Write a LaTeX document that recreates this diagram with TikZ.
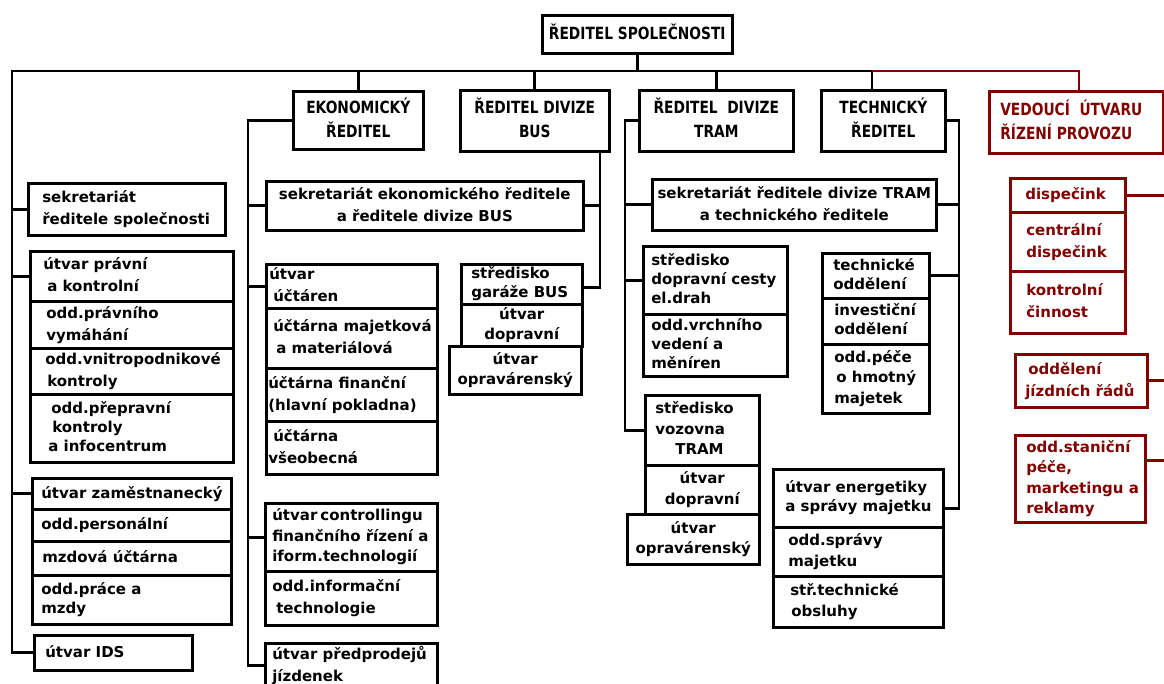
\documentclass[tikz,border=0pt]{standalone}
\usepackage{fontspec}
\setmainfont{DejaVu Sans}
\newfontfamily\headfam{DejaVu Sans}[FakeStretch=0.82]
\definecolor{darkrd}{RGB}{130,0,0}
\newcommand\bodyfont{\fontsize{15}{22}\selectfont\bfseries}
\tikzset{
  cellbox/.style={draw, line width=2.6pt, inner sep=0pt, fill=white, font=\bodyfont},
  hdr/.style={font=\headfam\fontsize{16.8}{24}\selectfont\bfseries},
  tight/.style={font=\fontsize{15}{19}\selectfont\bfseries},
  tight2/.style={font=\fontsize{15}{20.5}\selectfont\bfseries},
  redbox/.style={draw=darkrd, text=darkrd},
  conn/.style={line width=2.7pt},
  redconn/.style={line width=2.7pt, draw=darkrd},
}
% left-aligned cell: [opts]{name}{x1}{y1}{x2}{y2}{indent}{lines}
\newcommand\cell[8][]{%
  \pgfmathsetmacro\cw{#5-#3}\pgfmathsetmacro\ch{#6-#4}%
  \node[cellbox, minimum height=\ch pt, anchor=north west, #1] (#2) at (#3,#4)
    {\makebox[\cw pt][l]{\hspace*{#7pt}\begin{tabular}{@{}l@{}}#8\end{tabular}}};}
% centred cell: [opts]{name}{x1}{y1}{x2}{y2}{lines}
\newcommand\ccell[7][]{%
  \pgfmathsetmacro\cw{#5-#3}\pgfmathsetmacro\ch{#6-#4}%
  \node[cellbox, minimum height=\ch pt, anchor=north west, #1] (#2) at (#3,#4)
    {\makebox[\cw pt][c]{\begin{tabular}{@{}c@{}}#7\end{tabular}}};}
\begin{document}
\begin{tikzpicture}[x=1pt, y=-1pt]
\fill[white] (0,0) rectangle (1164,684);
\useasboundingbox (0,0) rectangle (1164,684);

% management level
\ccell[hdr]{top}{541}{14}{731}{52}{ŘEDITEL SPOLEČNOSTI}
\ccell[hdr]{eko}{292}{90}{422}{148}{EKONOMICKÝ\\ŘEDITEL}
\ccell[hdr]{bus}{459}{89}{608}{150}{ŘEDITEL DIVIZE\\BUS}
\ccell[hdr]{tram}{638}{89}{792}{150}{ŘEDITEL\ \ DIVIZE\\TRAM}
\ccell[hdr]{tech}{820}{89}{944}{150}{TECHNICKÝ\\ŘEDITEL}
\cell[hdr,redbox]{ved}{988}{90}{1162}{152}{11}{VEDOUCÍ\ \ ÚTVARU\\ŘÍZENÍ PROVOZU}

% units under the company director
\cell{sekr}{27}{182}{224}{234}{14}{sekretariát\\ředitele společnosti}
\cell{prav1}{29}{250}{232}{300}{13}{útvar právní\\\hspace{4pt}a kontrolní}
\cell{prav2}{29}{300}{232}{347}{16}{odd.právního\\vymáhání}
\cell{prav3}{29}{347}{232}{393}{15}{odd.vnitropodnikové\\\hspace{2pt}kontroly}
\cell[tight]{prav4}{29}{393}{232}{461}{18}{\hspace{3pt}odd.přepravní\\\hspace{4pt}kontroly\\a infocentrum}
\cell{zam1}{31}{477}{230}{508}{9}{útvar zaměstnanecký}
\cell{zam2}{31}{508}{230}{540}{9}{odd.personální}
\cell{zam3}{31}{540}{230}{574}{10}{mzdová účtárna}
\cell[tight]{zam4}{31}{574}{230}{623}{9}{odd.práce a\\mzdy}
\cell{ids}{33}{634}{191}{669}{11}{útvar IDS}

% economic director and BUS division
\ccell{seke}{265}{180}{582}{229}{sekretariát ekonomického ředitele\\a ředitele divize BUS}
\cell{uct1}{265}{263}{436}{307}{3}{útvar\\\hspace{4pt}účtáren}
\cell{uct2}{265}{307}{436}{367}{7}{účtárna majetková\\\hspace{3pt}a materiálová}
\cell{uct3}{265}{367}{436}{420}{2}{účtárna finanční\\(hlavní pokladna)}
\cell{uct4}{265}{420}{436}{473}{7}{účtárna\\\hspace{-5pt}všeobecná}
\cell[tight]{gar1}{460}{263}{581}{303}{10}{středisko\\garáže BUS}
\ccell[tight2]{gar2}{460}{303}{581}{345}{útvar\\dopravní}
\ccell[tight2]{gar3}{448}{345}{580}{393}{útvar\\opravárenský}
\cell[tight2]{ctrl1}{264}{502}{436}{570}{7}{útvar\hspace{3pt}controllingu\\finančního řízení a\\iform.technologií}
\cell{ctrl2}{264}{570}{436}{624}{7}{odd.informační\\\hspace{4pt}technologie}
\cell{pred}{264}{642}{436}{687}{7}{útvar předprodejů\\jízdenek}

% TRAM division and technical director
\ccell{sekt}{651}{178}{935}{229}{sekretariát ředitele divize TRAM\\a technického ředitele}
\cell[tight]{dopr1}{642}{245}{786}{313}{8}{středisko\\dopravní cesty\\el.drah}
\cell[tight]{dopr2}{642}{313}{786}{375}{8}{odd.vrchního\\vedení a\\měníren}
\cell[tight2]{voz1}{644}{394}{758}{464}{10}{středisko\\vozovna\\\hspace{20pt}TRAM}
\ccell[tight2]{voz2}{644}{464}{758}{513}{útvar\\dopravní}
\ccell[tight2]{voz3}{626}{513}{758}{563}{útvar\\opravárenský}
\cell[tight]{teo1}{821}{252}{928}{297}{11}{technické\\oddělení}
\cell[tight]{teo2}{821}{297}{928}{343}{12}{investiční\\oddělení}
\cell[tight2]{teo3}{821}{343}{928}{412}{12}{odd.péče\\\hspace{2pt}o hmotný\\majetek}
\cell[tight]{en1}{772}{468}{942}{526}{12}{útvar energetiky\\a správy majetku}
\cell[tight2]{en2}{772}{526}{942}{575}{15}{odd.správy\\majetku}
\cell[tight2]{en3}{772}{575}{942}{626}{17}{stř.technické\\\hspace{1pt}obsluhy}

% operations control
\cell[redbox]{dis1}{1009}{177}{1124}{211}{15}{dispečink}
\cell[redbox]{dis2}{1009}{211}{1124}{270}{16}{centrální\\dispečink}
\cell[redbox]{dis3}{1009}{270}{1124}{332}{16}{kontrolní\\činnost}
\cell[redbox]{jiz}{1014}{353}{1146}{406}{10}{\hspace{3pt}oddělení\\jízdních řádů}
\cell[redbox,tight2]{sta}{1014}{434}{1144}{521}{11}{odd.staniční\\péče,\\marketingu a\\reklamy}

% trunk lines and branch points
\coordinate (busL) at (12,71);
\coordinate (techJ) at (872,71);
\coordinate (redJ) at (1079,71);
\coordinate (ekoT) at (248,0);
\coordinate (busT) at (600,0);
\coordinate (tramT) at (625,0);
\coordinate (techT) at (959,0);
\coordinate (edge) at (1172,0);
\coordinate (garE) at ([yshift=-3pt]gar1.east);
\coordinate (enE) at ([yshift=-10pt]en1.east);
\coordinate (staE) at ([yshift=18pt]sta.east);

\draw[conn] (top.south) -- (top.south |- busL);
\draw[conn] (ids.west) -| (busL) -- (techJ);
\draw[conn] (eko.north) -- (eko.north |- busL);
\draw[conn] (bus.north) -- (bus.north |- busL);
\draw[conn] (tram.north) -- (tram.north |- busL);
\draw[conn] (tech.north -| techJ) -- (techJ);
\draw[redconn] (techJ) -| (ved.north -| redJ);

\foreach \n in {sekr,prav1,zam1} \draw[conn] (\n.west) -- (\n.west -| busL);

\draw[conn] (eko.west) -| (ekoT |- pred.west) -- (pred.west);
\foreach \n in {seke,uct1,ctrl1} \draw[conn] (\n.west) -- (\n.west -| ekoT);

\draw[conn] (bus.south -| busT) |- (garE);
\draw[conn] (seke.east) -- (seke.east -| busT);

\draw[conn] (tram.west) -| (tramT |- voz1.west) -- (voz1.west);
\foreach \n in {sekt,dopr1} \draw[conn] (\n.west) -- (\n.west -| tramT);

\draw[conn] (tech.east) -| (techT |- enE) -- (enE);
\foreach \n in {sekt,teo1} \draw[conn] (\n.east) -- (\n.east -| techT);

\foreach \n in {dis1,jiz} \draw[redconn] (\n.east) -- (\n.east -| edge);
\draw[redconn] (staE) -- (staE -| edge);
\end{tikzpicture}
\end{document}
